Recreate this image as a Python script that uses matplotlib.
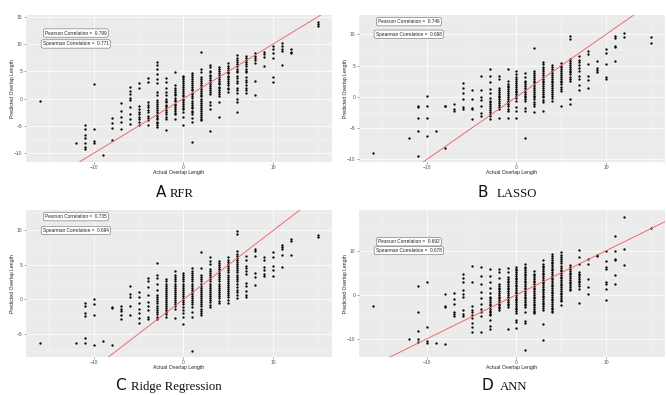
import matplotlib
matplotlib.use("Agg")
import matplotlib.pyplot as plt

# ---------------- data ----------------
panel_letters = ["A", "B", "C", "D"]
panel_names = ["RFR", "LASSO", "Ridge Regression", "ANN"]
pearson = ["0.799", "0.746", "0.735", "0.692"]
spearman = ["0.771", "0.698", "0.694", "0.678"]

# actual overlap length (x) -> predicted overlap lengths (y)
rfr = {
    -16: [-0.4],
    -12: [-8.1],
    -11: [-4.9, -5.6, -6.6, -7.2, -8.2, -8.8, -9.3],
    -10: [2.6, -5.5, -7.7, -8.1],
    -9: [-10.3],
    -8: [-3.6, -4.4, -5.4, -7.6],
    -7: [-0.8, -2.3, -3.4, -4.3, -5.6],
    -6: [2.1, 1.4, 0.8, 0.2, -0.2, -1.6, -2.8, -3.8, -4.6],
    -5: [2.8, 2.0, -1.3, -1.9, -2.5, -2.8, -3.3, -3.7, -4.2, -4.8],
    -4: [3.7, 3.1, -0.7, -1.1, -1.6, -2.0, -2.5, -3.1, -3.6, -4.0, -4.9],
    -3: [6.7, 6.1, 5.4, 4.5, 3.6, 2.9, 1.2, 0.6, -0.3, -0.7, -1.0, -1.4, -1.7, -2.1,
         -2.4, -2.8, -3.1, -3.5, -3.8, -4.2, -4.5, -4.9, -5.2],
    -2: [3.7, 3.1, 2.0, 1.3, 0.6, 0.0, -0.4, -0.7, -1.1, -1.4, -1.8, -2.1, -2.5, -2.9,
         -3.3, -3.7, -5.8],
    -1: [4.9, 2.5, 2.0, 1.6, 1.3, 0.9, 0.6, 0.2, -0.2, -0.5, -0.9, -1.2, -1.6, -1.9,
         -2.3, -2.6, -2.8, -3.8],
    0: [4.2, 3.9, 3.5, 3.2, 2.8, 2.5, 2.1, 1.8, 1.4, 1.1, 0.7, 0.4, 0.0, -0.3, -0.7,
        -1.0, -1.4, -1.7, -1.9, -2.5, -3.4, -4.8],
    1: [4.6, 4.3, 3.9, 3.6, 3.2, 2.9, 2.5, 2.2, 1.8, 1.5, 1.1, 0.8, 0.5, 0.2, -0.4, -0.8,
        -1.1, -1.5, -1.8, -2.2, -2.5, -2.8, -3.6, -4.3, -8.0],
    2: [8.6, 5.4, 4.8, 3.9, 3.5, 3.2, 2.8, 2.5, 2.1, 1.8, 1.4, 1.1, 0.7, 0.4, 0.0, -0.4,
        -0.8, -1.1, -1.5, -1.9, -2.3, -2.6, -3.0, -3.4, -3.7, -4.0],
    3: [6.1, 5.7, 5.1, 4.8, 4.4, 4.1, 3.7, 3.4, 3.0, 2.7, 2.3, 2.0, 1.6, 1.2, 0.8, -0.7,
        -1.1, -1.9, -6.0],
    4: [5.8, 5.4, 5.0, 4.7, 4.3, 4.0, 3.6, 3.3, 2.9, 2.6, 2.2, 1.9, 1.5, 1.2, 0.8, 0.5,
        -0.7, -3.4],
    5: [6.5, 6.0, 5.6, 5.3, 4.9, 4.6, 4.2, 3.9, 3.5, 3.2, 2.8, 2.4, 2.0, 1.7, 1.3],
    6: [7.9, 7.5, 7.1, 6.7, 6.3, 5.9, 5.5, 5.1, 4.8, 4.2, 3.8, 3.3, 2.8, 2.0, 1.6, 1.1,
        -0.1, -0.7, -2.5],
    7: [7.8, 7.5, 7.1, 6.7, 6.3, 5.9, 5.5, 5.1, 4.8, 3.9, 3.4, 3.0, 2.5, 2.0, 1.5, 1.0],
    8: [8.3, 7.8, 7.4, 7.0, 6.6, 3.3, 0.7],
    9: [8.5, 8.1, 7.7, 6.0],
    10: [9.7, 9.1, 8.4, 7.4, 3.9, 3.0],
    11: [10.1, 9.6, 9.1, 8.7, 6.1],
    12: [9.0, 8.6, 8.3],
    15: [14.1, 13.7, 13.3],
}

lasso = {
    -16: [-9.0],
    -12: [-6.5],
    -11: [-1.4, -1.6, -3.3, -5.5, -9.4],
    -10: [0.2, -1.5, -3.4, -6.3],
    -9: [-5.5],
    -8: [-1.4, -1.5, -8.1],
    -7: [-1.1, -1.9, -2.2],
    -6: [2.2, 1.4, 0.6, -0.3, -1.6, -1.9],
    -5: [1.1, -0.4, -1.7, -2.0, -3.5],
    -4: [3.4, 1.1, 0.05, -0.5, -1.5, -2.6, -3.0],
    -3: [4.4, 3.4, 2.3, 1.2, 0.6, -0.2, -0.6, -0.9, -1.2, -1.5, -1.8, -2.1, -2.4, -2.7,
         -3.0, -3.5],
    -2: [3.4, 2.9, 1.4, 1.1, 0.8, 0.5, 0.2, -0.1, -0.4, -0.7, -1.0, -1.3, -1.6, -1.9, -3.4],
    -1: [4.4, 2.6, 2.1, 1.8, 1.5, 1.2, 0.9, 0.6, 0.3, 0.0, -0.3, -0.6, -0.9, -1.2, -1.5,
         -1.9, -2.2, -3.4],
    0: [4.2, 3.7, 3.1, 2.8, 2.5, 2.2, 1.9, 1.6, 1.3, 1.0, 0.7, 0.4, 0.1, -0.2, -0.6, -1.6,
        -2.2, -3.4],
    1: [3.8, 3.2, 2.6, 2.3, 2.0, 1.7, 1.4, 1.1, 0.8, 0.5, 0.2, -0.1, -0.4, -0.6, -1.8,
        -2.3, -6.6],
    2: [7.8, 4.2, 3.8, 3.5, 3.2, 2.9, 2.6, 2.3, 2.0, 1.7, 1.4, 1.1, 0.8, 0.5, 0.2, -0.1,
        -0.4, -0.8, -1.1, -1.4, -2.4],
    3: [5.6, 5.2, 4.7, 4.4, 4.1, 3.8, 3.5, 3.2, 2.9, 2.6, 2.3, 2.0, 1.7, 1.4, 1.1, 0.8,
        0.5, 0.2, -0.1, -0.5, -0.8, -2.2],
    4: [5.1, 4.7, 4.4, 4.1, 3.8, 3.5, 3.2, 2.9, 2.6, 2.3, 2.0, 1.7, 1.4, 1.1, 0.8, 0.5,
        0.2, -0.2, -0.6],
    5: [5.4, 5.0, 4.7, 4.4, 4.1, 3.8, 3.5, 3.2, 2.9, 2.6, 2.3, 2.0, 1.6, 1.3, 1.0, -1.4],
    6: [9.7, 9.3, 6.0, 5.7, 5.4, 5.1, 4.8, 4.5, 4.2, 3.9, 3.6, 3.2, 2.9, 2.6, -0.4, -1.1],
    7: [6.5, 5.9, 5.5, 5.1, 4.6, 4.2, 3.3, 2.8, 1.9, 1.1],
    8: [7.4, 6.8, 5.3, 3.4, 2.7, 1.4],
    9: [5.7, 4.6, 4.3, 3.9],
    10: [7.6, 7.0, 5.2, 3.2, 2.8],
    11: [9.7, 9.4, 8.2, 7.9, 5.8],
    12: [10.2, 9.5],
    15: [9.5, 8.6],
}

ridge = {
    -16: [-6.3],
    -12: [-6.3],
    -11: [-0.6, -1.0, -2.0, -2.4, -5.6, -6.4],
    -10: [0.0, -0.7, -2.3, -6.7],
    -9: [-6.0],
    -8: [-1.1, -1.3, -6.7],
    -7: [-0.9, -1.4, -1.7, -2.3, -2.8],
    -6: [1.9, 0.8, 0.3, -1.0, -2.3],
    -5: [1.1, 0.3, -0.6, -1.4, -2.0, -2.7, -3.4],
    -4: [3.1, 2.7, 1.8, 0.6, -0.4, -0.9, -1.6, -2.6, -2.8],
    -3: [5.3, 3.6, 3.1, 2.2, 1.3, 0.6, 0.3, 0.0, -0.3, -0.6, -0.9, -1.2, -1.5, -1.8,
         -2.1, -2.5, -2.8],
    -2: [3.0, 2.6, 2.3, 2.0, 1.7, 1.4, 1.1, 0.8, 0.5, 0.2, -0.1, -0.4, -0.7, -1.0, -1.3,
         -1.6, -1.9, -2.2, -2.5],
    -1: [4.1, 3.5, 3.2, 2.9, 2.6, 2.3, 2.0, 1.7, 1.4, 1.1, 0.8, 0.5, 0.2, -0.1, -0.4,
         -0.7, -1.0, -1.4, -2.7],
    0: [3.8, 3.5, 3.2, 2.9, 2.6, 2.3, 2.0, 1.7, 1.4, 1.1, 0.8, 0.5, 0.2, -0.1, -0.4, -0.7,
        -1.1, -1.6, -2.0, -2.5, -3.6],
    1: [4.5, 4.1, 3.8, 3.5, 3.2, 2.9, 2.6, 2.3, 2.0, 1.7, 1.4, 1.1, 0.8, 0.5, 0.2, -0.1,
        -0.4, -0.7, -1.1, -1.8, -2.6, -7.5],
    2: [6.9, 4.5, 3.5, 3.2, 2.9, 2.6, 2.3, 2.0, 1.7, 1.4, 1.1, 0.8, 0.5, 0.2, -0.1, -0.4,
        -0.7, -1.0, -1.4, -1.7, -2.0, -2.3],
    3: [6.1, 5.6, 5.1, 4.4, 4.1, 3.8, 3.5, 3.2, 2.9, 2.6, 2.3, 2.0, 1.7, 1.4, 1.1, 0.8,
        0.5, 0.2, -0.1, -0.4, -0.8, -1.1],
    4: [5.6, 5.3, 5.0, 4.7, 4.4, 4.1, 3.8, 3.5, 3.2, 2.9, 2.6, 2.3, 2.0, 1.7, 1.4, 1.1,
        0.8, 0.5, 0.2, -0.2, -0.6],
    5: [6.2, 5.7, 5.4, 5.1, 4.8, 4.5, 4.2, 3.9, 3.6, 3.3, 3.0, 2.7, 2.4, 2.1, 1.8, 1.5,
        1.2, 0.9, 0.6, 0.3, -0.1, -0.5],
    6: [9.9, 9.5, 7.0, 6.6, 6.3, 6.0, 5.7, 5.4, 5.1, 4.8, 4.5, 4.2, 3.9, 3.6, 3.3, 3.0,
        2.6, 2.2, 1.8, 1.4, 1.0, 0.6, 0.2],
    7: [6.3, 5.7, 4.9, 4.5, 4.1, 3.7, 2.4, 2.0, 1.2, 0.7, 0.4],
    8: [7.3, 7.0, 6.3, 3.8, 3.3, 2.1],
    9: [6.1, 5.7, 4.7, 4.3, 3.7, 3.4],
    10: [6.9, 6.1, 4.9, 4.3, 3.4],
    11: [7.9, 7.6, 7.3, 6.4, 4.7],
    12: [8.7, 8.4, 6.4],
    15: [9.4, 9.1],
}

ann = {
    -16: [-2.5],
    -12: [-10.0],
    -11: [2.0, -3.9, -8.1, -10.0, -10.6],
    -10: [2.8, -7.2, -10.4, -10.9],
    -9: [-10.9],
    -8: [0.15, -2.5, -2.7, -11.1],
    -7: [0.3, -1.0, -2.2, -4.0, -4.4, -4.9],
    -6: [4.8, 3.7, 2.9, 1.0, 0.15, -0.4, -3.4, -4.4, -4.9],
    -5: [6.6, 2.9, -2.5, -3.4, -4.0, -4.6, -5.2, -6.3, -7.3, -8.5],
    -4: [6.3, 4.3, 2.4, 0.7, -0.8, -2.2, -3.3, -3.8, -4.8, -8.5],
    -3: [5.9, 4.2, 2.9, 1.6, 0.45, -0.4, -0.8, -1.2, -1.6, -2.0, -2.4, -2.8, -3.2, -3.6,
         -4.0, -4.3, -4.6, -5.7, -7.0, -7.8],
    -2: [5.8, 5.2, 3.7, 2.4, 2.0, 1.6, 1.2, 0.8, 0.4, 0.0, -0.4, -0.8, -1.2, -1.6, -2.0,
         -2.4, -2.8, -3.1, -3.4],
    -1: [6.1, 5.2, 4.0, 3.6, 3.2, 2.8, 2.4, 2.0, 1.6, 1.2, 0.8, 0.4, 0.0, -0.4, -0.8,
         -1.2, -1.6, -2.0, -2.4, -2.7, -7.8],
    0: [6.4, 5.9, 5.5, 5.1, 4.7, 4.3, 3.9, 3.5, 3.1, 2.7, 2.3, 1.9, 1.5, 1.1, 0.7, 0.3,
        -0.1, -0.5, -0.9, -1.3, -1.7, -2.1, -2.5, -2.9, -3.3, -3.7, -4.2, -5.7, -6.1, -7.6],
    1: [6.9, 6.4, 6.0, 5.6, 5.2, 4.8, 4.4, 4.0, 3.6, 3.2, 2.8, 2.4, 2.0, 1.6, 1.2, 0.8,
        0.4, 0.0, -0.4, -0.8, -1.2, -1.6, -2.0, -2.4, -2.7, -4.0, -5.9, -6.3, -12.6],
    2: [5.4, 4.8, 4.4, 4.0, 3.6, 3.2, 2.8, 2.4, 2.0, 1.6, 1.2, 0.8, 0.4, 0.0, -0.4, -0.8,
        -1.2, -1.6, -2.0, -2.4, -2.8, -3.2, -3.6, -3.9, -4.2],
    3: [7.8, 7.0, 6.6, 6.2, 5.8, 5.4, 5.0, 4.6, 4.2, 3.8, 3.4, 3.0, 2.6, 2.2, 1.8, 1.4,
        1.0, 0.6, 0.2, -0.2, -0.6, -1.0, -1.4, -1.8, -2.2, -2.6, -3.0, -3.4, -6.6, -10.2],
    4: [9.3, 8.7, 8.3, 7.9, 7.5, 7.1, 6.7, 6.3, 5.9, 5.5, 5.1, 4.7, 4.3, 3.9, 3.5, 3.1,
        2.7, 2.3, 1.9, 1.5, 1.1, 0.7, 0.3, -0.1, -0.5, -0.9, -1.3, -1.7, -2.1, -2.5,
        -2.9, -3.3, -3.7, -4.0],
    5: [9.7, 9.1, 8.6, 8.1, 7.6, 7.1, 6.6, 6.1, 5.7, 5.3, 4.9, 4.5, 4.1, 3.7, 3.3, 2.9,
        2.5, 2.1, 1.7, 1.3, 0.9, 0.5, 0.1, -0.3, -0.7, -1.1, -1.5, -2.3],
    6: [6.7, 6.2, 5.8, 5.4, 5.0, 4.6, 4.2, 3.8, 3.4, 3.0, 2.6, 2.2, 1.8, 1.4, 1.0],
    7: [10.2, 8.5, 7.0, 5.2, 4.8, 4.4, 4.0, 3.6, 3.2, 2.8, 2.4, 2.0, 1.4, -1.8],
    8: [8.2, 6.9, 3.5, 1.8, 0.15],
    9: [9.1, 8.7],
    10: [10.0, 7.6, 6.3, 5.9, 2.9, 2.5, 1.4, -1.2],
    11: [13.3, 10.0, 8.2, 7.9, 4.4, 2.5],
    12: [17.7, 10.4, 6.7],
    15: [15.1],
}

panel_data = [rfr, lasso, ridge, ann]
x_ticks = [-10, 0, 10]
x_minor = [-15, -5, 5, 15]
y_ticks = [[-10, -5, 0, 5, 10, 15], [-10, -5, 0, 5, 10], [-5, 0, 5, 10], [-10, 0, 10]]
y_minor = [[-7.5, -2.5, 2.5, 7.5, 12.5], [-7.5, -2.5, 2.5, 7.5, 12.5],
           [-7.5, -2.5, 2.5, 7.5, 12.5], [-5, 5, 15]]
y_lims = [(-11.6, 15.3), (-10.4, 13.07), (-8.37, 12.97), (-14.1, 19.2)]
x_lim = (-17.55, 16.55)
label_x = -12
label_y = [12, 10]

# ---------------- layout (pixels) ----------------
W, H = 666, 395
boxes = [(26, 15, 332, 162), (359, 15, 665, 162), (26, 210, 332, 357), (359, 210, 665, 357)]
# (letter right edge, name left edge, baseline y)
title_pos = [(166, 170, 197), (488, 497, 197), (126, 131, 390), (493, 500, 390)]

fig = plt.figure(figsize=(W / 100, H / 100), dpi=100)

for i, (l, t, r, b) in enumerate(boxes):
    ax = fig.add_axes([l / W, 1 - b / H, (r - l) / W, (b - t) / H])
    ax.set_facecolor("#EBEBEB")
    for s in ax.spines.values():
        s.set_visible(False)
    ax.set_xlim(*x_lim)
    ax.set_ylim(*y_lims[i])
    ax.set_xticks(x_ticks)
    ax.set_xticks(x_minor, minor=True)
    ax.set_yticks(y_ticks[i])
    ax.set_yticks(y_minor[i], minor=True)
    ax.grid(which="major", color="white", linewidth=0.55)
    ax.grid(which="minor", color="white", linewidth=0.25)
    ax.set_axisbelow(True)
    ax.tick_params(which="major", length=1.5, width=0.4, color="#555555",
                   labelsize=3.6, labelcolor="#555555", pad=1)
    ax.tick_params(which="minor", length=0)
    for lab in ax.get_xticklabels() + ax.get_yticklabels():
        lab.set_family("Liberation Sans")

    d = panel_data[i]
    xs = [x for x, ys in d.items() for _ in ys]
    yy = [y for ys in d.values() for y in ys]
    ax.scatter(xs, yy, s=2.8, c="black", linewidths=0, zorder=3)
    ax.axline((0, 0), slope=1, color="#F06262", linewidth=0.65, zorder=4)

    for txt, yv in zip([f"Pearson Correlation =  {pearson[i]}",
                        f"Spearman Correlation =  {spearman[i]}"], label_y):
        ax.text(label_x, yv, txt, ha="center", va="center", fontsize=3.4,
                family="Liberation Sans", color="#222222", zorder=5,
                bbox=dict(boxstyle="round,pad=0.35,rounding_size=0.4",
                          facecolor="white", edgecolor="#666666", linewidth=0.4))

    ax.set_xlabel("Actual Overlap Length", fontsize=3.7, family="Liberation Sans",
                  color="#222222")
    ax.set_ylabel("Predicted Overlap Length", fontsize=3.7, family="Liberation Sans",
                  color="#222222")
    ax.xaxis.set_label_coords(0.5, -0.07)
    ax.xaxis.label.set_va("center")
    ax.yaxis.set_label_coords(-0.045, 0.5)
    ax.yaxis.label.set_va("center")

    lx, nx, by = title_pos[i]
    fig.text(lx / W, 1 - by / H, panel_letters[i], ha="right", va="baseline",
             fontsize=11, family="DejaVu Sans", color="#111111")
    fig.text(nx / W, 1 - by / H, panel_names[i], ha="left", va="baseline",
             fontsize=9.2, family="Liberation Serif", color="#111111")

fig.savefig("out.png", dpi=100)
